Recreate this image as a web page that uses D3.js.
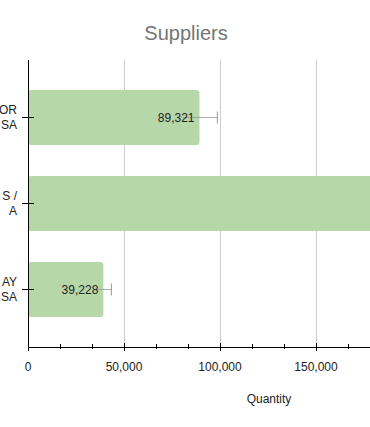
<!DOCTYPE html>
<html><head><meta charset="utf-8">
<script src="https://cdn.jsdelivr.net/npm/d3@7"></script>
<style>body{margin:0;background:#fff;overflow:hidden}svg{display:block}</style>
</head><body>
<script>
const categories = [["OR","SA"],["S /","A"],["AY","SA"]];
const values = [89321, 215000, 39228];
const errors = [9300, 0, 4200];
const xTicks = [0, 50000, 100000, 150000];
const title = "Suppliers";
const axisTitle = "Quantity";

const W = 370, H = 427;
const svg = d3.select("body").append("svg").attr("width", W).attr("height", H);
const x = d3.scaleLinear().domain([0, 250000]).range([28, 508]);
const y = d3.scaleBand().domain(d3.range(categories.length)).range([60, 347]).paddingInner(0.3605).paddingOuter(0.349);
const fmt = d3.format(",");
const font = "Liberation Sans, Arial, sans-serif";

svg.append("text").attr("x", 186).attr("y", 40).attr("text-anchor", "middle")
  .attr("font-family", font).attr("font-size", 20).attr("fill", "#757575").text(title);

// gridlines
svg.append("g").selectAll("line").data(xTicks.filter(d => d > 0)).join("line")
  .attr("x1", d => x(d)).attr("x2", d => x(d)).attr("y1", 60).attr("y2", 347)
  .attr("stroke", "#cccccc").attr("stroke-width", 1).attr("shape-rendering", "crispEdges");

// bars
svg.append("g").selectAll("rect").data(values).join("rect")
  .attr("x", x(0)).attr("y", (d, i) => y(i)).attr("width", d => x(d) - x(0)).attr("height", y.bandwidth())
  .attr("rx", 3).attr("fill", "#b6d7a8");

// error bars
const eg = svg.append("g").attr("stroke", "#999999").attr("stroke-width", 1);
values.forEach((v, i) => {
  if (!errors[i]) return;
  const cy = y(i) + y.bandwidth() / 2;
  eg.append("line").attr("x1", x(v - errors[i])).attr("x2", x(v + errors[i])).attr("y1", cy).attr("y2", cy).attr("stroke-opacity", 0.8);
  eg.append("line").attr("x1", x(v + errors[i])).attr("x2", x(v + errors[i])).attr("y1", cy - 6).attr("y2", cy + 6);
});

// value labels (only those whose bar end is in view)
svg.append("g").selectAll("text").data(values.filter(d => x(d) < W)).join("text")
  .attr("x", d => x(d) - 5).attr("y", d => y(values.indexOf(d)) + y.bandwidth() / 2).attr("dy", "0.35em")
  .attr("text-anchor", "end").attr("font-family", font).attr("font-size", 12)
  .attr("fill", "#222").text(d => fmt(d));

// x axis
const xa = svg.append("g").attr("transform", "translate(0,347)");
xa.append("line").attr("x1", 28).attr("x2", 508).attr("stroke", "#000").attr("shape-rendering", "crispEdges");
const minor = d3.range(0, 250001, 50000 / 3).filter(d => !xTicks.some(t => Math.abs(t - d) < 1) && Math.abs(d - 200000) > 1);
xa.selectAll(".mj").data(xTicks).join("line").attr("class", "mj")
  .attr("x1", d => x(d)).attr("x2", d => x(d)).attr("y1", -4).attr("y2", 4).attr("stroke", "#000").attr("shape-rendering", "crispEdges");
xa.selectAll(".mn").data(minor).join("line").attr("class", "mn")
  .attr("x1", d => x(d)).attr("x2", d => x(d)).attr("y1", -3).attr("y2", 2).attr("stroke", "#000").attr("shape-rendering", "crispEdges");
xa.selectAll("text").data(xTicks).join("text")
  .attr("x", d => x(d)).attr("y", 20).attr("dy", "0.35em").attr("text-anchor", "middle")
  .attr("font-family", font).attr("font-size", 12).attr("fill", "#222").text(d => fmt(d));
svg.append("text").attr("x", 269).attr("y", 403).attr("text-anchor", "middle")
  .attr("font-family", font).attr("font-size", 12).attr("fill", "#222").text(axisTitle);

// y axis
const ya = svg.append("g");
ya.append("line").attr("x1", 28).attr("x2", 28).attr("y1", 60).attr("y2", 347).attr("stroke", "#000").attr("shape-rendering", "crispEdges");
categories.forEach((c, i) => {
  const cy = y(i) + y.bandwidth() / 2;
  ya.append("line").attr("x1", 22).attr("x2", 34).attr("y1", cy).attr("y2", cy).attr("stroke", "#000").attr("shape-rendering", "crispEdges");
  const t = ya.append("text").attr("text-anchor", "end").attr("font-family", font)
    .attr("font-size", 12).attr("fill", "#222");
  c.forEach((line, j) => t.append("tspan").attr("x", 17).attr("y", cy + (j - 0.5) * 14.5).attr("dy", "0.35em").text(line));
});
</script>
</body></html>
